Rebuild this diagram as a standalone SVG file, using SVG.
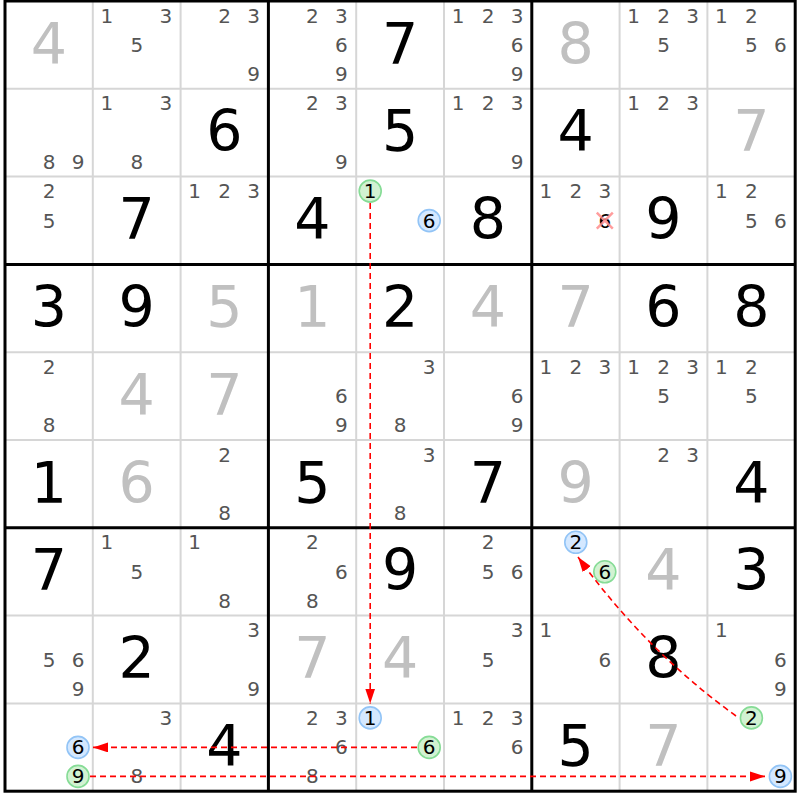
<svg xmlns="http://www.w3.org/2000/svg" width="800" height="800" viewBox="0 0 800 800">
<style>
.c{font-family:"DejaVu Sans",Verdana,sans-serif;font-size:20px;fill:#555555;text-anchor:middle}
.b{font-family:"DejaVu Sans",Verdana,sans-serif;font-size:57px;fill:#000;text-anchor:middle}
.g{fill:#c0c0c0}
.k{fill:#000}
.thin{stroke:#d6d6d6;stroke-width:2;fill:none}
.thick{stroke:#000;stroke-width:3;fill:none}
.cg{fill:#d2f2d2;stroke:#86dc96;stroke-width:1.6}
.cb{fill:#d4e8ff;stroke:#92c4f6;stroke-width:1.6}
.lnk{stroke:#ff0000;stroke-width:1.6;stroke-dasharray:6 4;fill:none}
.del{stroke:#ff8c8c;stroke-width:2.5;opacity:0.85}
</style>
<defs>
<marker id="ah" markerUnits="userSpaceOnUse" markerWidth="16" markerHeight="11" refX="15" refY="5" orient="auto">
<path d="M0,0 L15,5 L0,10 z" fill="#ff0000"/>
</marker>
</defs>
<rect x="0" y="0" width="800" height="800" fill="#fff"/>
<g id="grid">
<path class="thin" d="M92.8,1V791.2M180.6,1V791.2M356.2,1V791.2M444,1V791.2M619.6,1V791.2M707.4,1V791.2M5,88.8H795.2M5,176.6H795.2M5,352.2H795.2M5,440H795.2M5,615.6H795.2M5,703.4H795.2"/>
<path class="thick" d="M268.4,1V791.2M531.8,1V791.2M5,264.4H795.2M5,527.8H795.2"/>
<rect class="thick" x="5" y="1" width="790.2" height="790.2"/>
</g>
<!-- Row 0 -->
<g id="r0c0" transform="translate(5,1)"><text class="b g" x="43.9" y="62.5">4</text></g>
<g id="r0c1" transform="translate(92.8,1)"><text class="c" x="14" y="21.5">1</text><text class="c" x="73" y="21.5">3</text><text class="c" x="44" y="51">5</text></g>
<g id="r0c2" transform="translate(180.6,1)"><text class="c" x="44" y="21.5">2</text><text class="c" x="73" y="21.5">3</text><text class="c" x="73" y="80">9</text></g>
<g id="r0c3" transform="translate(268.4,1)"><text class="c" x="44" y="21.5">2</text><text class="c" x="73" y="21.5">3</text><text class="c" x="73" y="51">6</text><text class="c" x="73" y="80">9</text></g>
<g id="r0c4" transform="translate(356.2,1)"><text class="b" x="43.9" y="62.5">7</text></g>
<g id="r0c5" transform="translate(444,1)"><text class="c" x="14" y="21.5">1</text><text class="c" x="44" y="21.5">2</text><text class="c" x="73" y="21.5">3</text><text class="c" x="73" y="51">6</text><text class="c" x="73" y="80">9</text></g>
<g id="r0c6" transform="translate(531.8,1)"><text class="b g" x="43.9" y="62.5">8</text></g>
<g id="r0c7" transform="translate(619.6,1)"><text class="c" x="14" y="21.5">1</text><text class="c" x="44" y="21.5">2</text><text class="c" x="73" y="21.5">3</text><text class="c" x="44" y="51">5</text></g>
<g id="r0c8" transform="translate(707.4,1)"><text class="c" x="14" y="21.5">1</text><text class="c" x="44" y="21.5">2</text><text class="c" x="44" y="51">5</text><text class="c" x="73" y="51">6</text></g>
<!-- Row 1 -->
<g id="r1c0" transform="translate(5,88.8)"><text class="c" x="44" y="80">8</text><text class="c" x="73" y="80">9</text></g>
<g id="r1c1" transform="translate(92.8,88.8)"><text class="c" x="14" y="21.5">1</text><text class="c" x="73" y="21.5">3</text><text class="c" x="44" y="80">8</text></g>
<g id="r1c2" transform="translate(180.6,88.8)"><text class="b" x="43.9" y="62.5">6</text></g>
<g id="r1c3" transform="translate(268.4,88.8)"><text class="c" x="44" y="21.5">2</text><text class="c" x="73" y="21.5">3</text><text class="c" x="73" y="80">9</text></g>
<g id="r1c4" transform="translate(356.2,88.8)"><text class="b" x="43.9" y="62.5">5</text></g>
<g id="r1c5" transform="translate(444,88.8)"><text class="c" x="14" y="21.5">1</text><text class="c" x="44" y="21.5">2</text><text class="c" x="73" y="21.5">3</text><text class="c" x="73" y="80">9</text></g>
<g id="r1c6" transform="translate(531.8,88.8)"><text class="b" x="43.9" y="62.5">4</text></g>
<g id="r1c7" transform="translate(619.6,88.8)"><text class="c" x="14" y="21.5">1</text><text class="c" x="44" y="21.5">2</text><text class="c" x="73" y="21.5">3</text></g>
<g id="r1c8" transform="translate(707.4,88.8)"><text class="b g" x="43.9" y="62.5">7</text></g>
<!-- Row 2 -->
<g id="r2c0" transform="translate(5,176.6)"><text class="c" x="44" y="21.5">2</text><text class="c" x="44" y="51">5</text></g>
<g id="r2c1" transform="translate(92.8,176.6)"><text class="b" x="43.9" y="62.5">7</text></g>
<g id="r2c2" transform="translate(180.6,176.6)"><text class="c" x="14" y="21.5">1</text><text class="c" x="44" y="21.5">2</text><text class="c" x="73" y="21.5">3</text></g>
<g id="r2c3" transform="translate(268.4,176.6)"><text class="b" x="43.9" y="62.5">4</text></g>
<g id="r2c4" transform="translate(356.2,176.6)"><circle class="cg" cx="14" cy="14.5" r="11"/><text class="c k" x="14" y="21.5">1</text><circle class="cb" cx="73" cy="44" r="11"/><text class="c k" x="73" y="51">6</text></g>
<g id="r2c5" transform="translate(444,176.6)"><text class="b" x="43.9" y="62.5">8</text></g>
<g id="r2c6" transform="translate(531.8,176.6)"><text class="c" x="14" y="21.5">1</text><text class="c" x="44" y="21.5">2</text><text class="c" x="73" y="21.5">3</text><text class="c k" x="73" y="51">6</text><path class="del" d="M65,36 L81,52 M65,52 L81,36"/></g>
<g id="r2c7" transform="translate(619.6,176.6)"><text class="b" x="43.9" y="62.5">9</text></g>
<g id="r2c8" transform="translate(707.4,176.6)"><text class="c" x="14" y="21.5">1</text><text class="c" x="44" y="21.5">2</text><text class="c" x="44" y="51">5</text><text class="c" x="73" y="51">6</text></g>
<!-- Row 3 -->
<g id="r3c0" transform="translate(5,264.4)"><text class="b" x="43.9" y="62.5">3</text></g>
<g id="r3c1" transform="translate(92.8,264.4)"><text class="b" x="43.9" y="62.5">9</text></g>
<g id="r3c2" transform="translate(180.6,264.4)"><text class="b g" x="43.9" y="62.5">5</text></g>
<g id="r3c3" transform="translate(268.4,264.4)"><text class="b g" x="43.9" y="62.5">1</text></g>
<g id="r3c4" transform="translate(356.2,264.4)"><text class="b" x="43.9" y="62.5">2</text></g>
<g id="r3c5" transform="translate(444,264.4)"><text class="b g" x="43.9" y="62.5">4</text></g>
<g id="r3c6" transform="translate(531.8,264.4)"><text class="b g" x="43.9" y="62.5">7</text></g>
<g id="r3c7" transform="translate(619.6,264.4)"><text class="b" x="43.9" y="62.5">6</text></g>
<g id="r3c8" transform="translate(707.4,264.4)"><text class="b" x="43.9" y="62.5">8</text></g>
<!-- Row 4 -->
<g id="r4c0" transform="translate(5,352.2)"><text class="c" x="44" y="21.5">2</text><text class="c" x="44" y="80">8</text></g>
<g id="r4c1" transform="translate(92.8,352.2)"><text class="b g" x="43.9" y="62.5">4</text></g>
<g id="r4c2" transform="translate(180.6,352.2)"><text class="b g" x="43.9" y="62.5">7</text></g>
<g id="r4c3" transform="translate(268.4,352.2)"><text class="c" x="73" y="51">6</text><text class="c" x="73" y="80">9</text></g>
<g id="r4c4" transform="translate(356.2,352.2)"><text class="c" x="73" y="21.5">3</text><text class="c" x="44" y="80">8</text></g>
<g id="r4c5" transform="translate(444,352.2)"><text class="c" x="73" y="51">6</text><text class="c" x="73" y="80">9</text></g>
<g id="r4c6" transform="translate(531.8,352.2)"><text class="c" x="14" y="21.5">1</text><text class="c" x="44" y="21.5">2</text><text class="c" x="73" y="21.5">3</text></g>
<g id="r4c7" transform="translate(619.6,352.2)"><text class="c" x="14" y="21.5">1</text><text class="c" x="44" y="21.5">2</text><text class="c" x="73" y="21.5">3</text><text class="c" x="44" y="51">5</text></g>
<g id="r4c8" transform="translate(707.4,352.2)"><text class="c" x="14" y="21.5">1</text><text class="c" x="44" y="21.5">2</text><text class="c" x="44" y="51">5</text></g>
<!-- Row 5 -->
<g id="r5c0" transform="translate(5,440)"><text class="b" x="43.9" y="62.5">1</text></g>
<g id="r5c1" transform="translate(92.8,440)"><text class="b g" x="43.9" y="62.5">6</text></g>
<g id="r5c2" transform="translate(180.6,440)"><text class="c" x="44" y="21.5">2</text><text class="c" x="44" y="80">8</text></g>
<g id="r5c3" transform="translate(268.4,440)"><text class="b" x="43.9" y="62.5">5</text></g>
<g id="r5c4" transform="translate(356.2,440)"><text class="c" x="73" y="21.5">3</text><text class="c" x="44" y="80">8</text></g>
<g id="r5c5" transform="translate(444,440)"><text class="b" x="43.9" y="62.5">7</text></g>
<g id="r5c6" transform="translate(531.8,440)"><text class="b g" x="43.9" y="62.5">9</text></g>
<g id="r5c7" transform="translate(619.6,440)"><text class="c" x="44" y="21.5">2</text><text class="c" x="73" y="21.5">3</text></g>
<g id="r5c8" transform="translate(707.4,440)"><text class="b" x="43.9" y="62.5">4</text></g>
<!-- Row 6 -->
<g id="r6c0" transform="translate(5,527.8)"><text class="b" x="43.9" y="62.5">7</text></g>
<g id="r6c1" transform="translate(92.8,527.8)"><text class="c" x="14" y="21.5">1</text><text class="c" x="44" y="51">5</text></g>
<g id="r6c2" transform="translate(180.6,527.8)"><text class="c" x="14" y="21.5">1</text><text class="c" x="44" y="80">8</text></g>
<g id="r6c3" transform="translate(268.4,527.8)"><text class="c" x="44" y="21.5">2</text><text class="c" x="73" y="51">6</text><text class="c" x="44" y="80">8</text></g>
<g id="r6c4" transform="translate(356.2,527.8)"><text class="b" x="43.9" y="62.5">9</text></g>
<g id="r6c5" transform="translate(444,527.8)"><text class="c" x="44" y="21.5">2</text><text class="c" x="44" y="51">5</text><text class="c" x="73" y="51">6</text></g>
<g id="r6c6" transform="translate(531.8,527.8)"><circle class="cb" cx="44" cy="14.5" r="11"/><text class="c k" x="44" y="21.5">2</text><circle class="cg" cx="73" cy="44" r="11"/><text class="c k" x="73" y="51">6</text></g>
<g id="r6c7" transform="translate(619.6,527.8)"><text class="b g" x="43.9" y="62.5">4</text></g>
<g id="r6c8" transform="translate(707.4,527.8)"><text class="b" x="43.9" y="62.5">3</text></g>
<!-- Row 7 -->
<g id="r7c0" transform="translate(5,615.6)"><text class="c" x="44" y="51">5</text><text class="c" x="73" y="51">6</text><text class="c" x="73" y="80">9</text></g>
<g id="r7c1" transform="translate(92.8,615.6)"><text class="b" x="43.9" y="62.5">2</text></g>
<g id="r7c2" transform="translate(180.6,615.6)"><text class="c" x="73" y="21.5">3</text><text class="c" x="73" y="80">9</text></g>
<g id="r7c3" transform="translate(268.4,615.6)"><text class="b g" x="43.9" y="62.5">7</text></g>
<g id="r7c4" transform="translate(356.2,615.6)"><text class="b g" x="43.9" y="62.5">4</text></g>
<g id="r7c5" transform="translate(444,615.6)"><text class="c" x="73" y="21.5">3</text><text class="c" x="44" y="51">5</text></g>
<g id="r7c6" transform="translate(531.8,615.6)"><text class="c" x="14" y="21.5">1</text><text class="c" x="73" y="51">6</text></g>
<g id="r7c7" transform="translate(619.6,615.6)"><text class="b" x="43.9" y="62.5">8</text></g>
<g id="r7c8" transform="translate(707.4,615.6)"><text class="c" x="14" y="21.5">1</text><text class="c" x="73" y="51">6</text><text class="c" x="73" y="80">9</text></g>
<!-- Row 8 -->
<g id="r8c0" transform="translate(5,703.4)"><circle class="cb" cx="73" cy="44" r="11"/><text class="c k" x="73" y="51">6</text><circle class="cg" cx="73" cy="73" r="11"/><text class="c k" x="73" y="80">9</text></g>
<g id="r8c1" transform="translate(92.8,703.4)"><text class="c" x="73" y="21.5">3</text><text class="c" x="44" y="80">8</text></g>
<g id="r8c2" transform="translate(180.6,703.4)"><text class="b" x="43.9" y="62.5">4</text></g>
<g id="r8c3" transform="translate(268.4,703.4)"><text class="c" x="44" y="21.5">2</text><text class="c" x="73" y="21.5">3</text><text class="c" x="73" y="51">6</text><text class="c" x="44" y="80">8</text></g>
<g id="r8c4" transform="translate(356.2,703.4)"><circle class="cb" cx="14" cy="14.5" r="11"/><text class="c k" x="14" y="21.5">1</text><circle class="cg" cx="73" cy="44" r="11"/><text class="c k" x="73" y="51">6</text></g>
<g id="r8c5" transform="translate(444,703.4)"><text class="c" x="14" y="21.5">1</text><text class="c" x="44" y="21.5">2</text><text class="c" x="73" y="21.5">3</text><text class="c" x="73" y="51">6</text></g>
<g id="r8c6" transform="translate(531.8,703.4)"><text class="b" x="43.9" y="62.5">5</text></g>
<g id="r8c7" transform="translate(619.6,703.4)"><text class="b g" x="43.9" y="62.5">7</text></g>
<g id="r8c8" transform="translate(707.4,703.4)"><circle class="cg" cx="44" cy="14.5" r="11"/><text class="c k" x="44" y="21.5">2</text><circle class="cb" cx="73" cy="73" r="11"/><text class="c k" x="73" y="80">9</text></g>
<g id="connectors">
<path class="lnk" d="M370.2,203 L370.2,703.5" marker-end="url(#ah)"/>
<path class="lnk" d="M417,747.4 L93,747.4" marker-end="url(#ah)"/>
<path class="lnk" d="M90,776.4 L765,776.4" marker-end="url(#ah)"/>
<path class="lnk" d="M736,716 Q645,650 578,557" marker-end="url(#ah)"/>
</g>
</svg>
